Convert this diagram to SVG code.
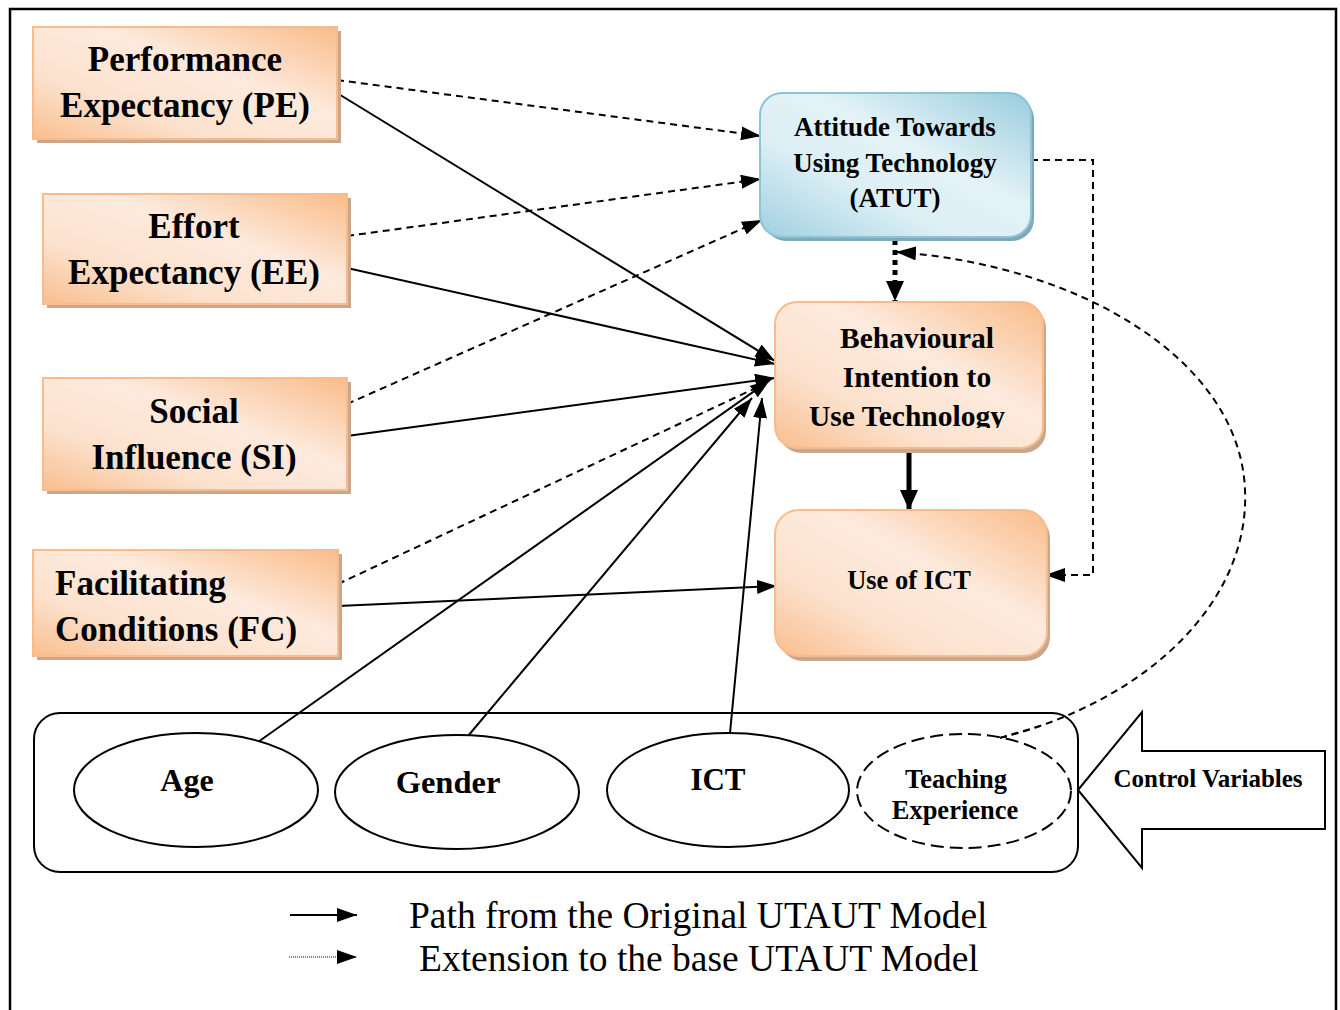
<svg xmlns="http://www.w3.org/2000/svg" width="1340" height="1010" viewBox="0 0 1340 1010">
  <defs>
    <linearGradient id="peach" x1="0" y1="1" x2="1" y2="0">
      <stop offset="0" stop-color="#F9BE8E"/>
      <stop offset="0.3" stop-color="#FCE2CE"/>
      <stop offset="0.6" stop-color="#FDEADD"/>
      <stop offset="1" stop-color="#F9BC8A"/>
    </linearGradient>
    <linearGradient id="sky" x1="0" y1="1" x2="1" y2="0">
      <stop offset="0" stop-color="#9FD0E0"/>
      <stop offset="0.35" stop-color="#DCEFF5"/>
      <stop offset="0.6" stop-color="#E3F2F7"/>
      <stop offset="1" stop-color="#98CCDD"/>
    </linearGradient>
    <marker id="arr" viewBox="0 0 20 14" refX="20" refY="7" markerWidth="20" markerHeight="14" markerUnits="userSpaceOnUse" orient="auto">
      <path d="M0,0 L20,7 L0,14 Z" fill="#000"/>
    </marker>
    <marker id="arrBig" viewBox="0 0 20 18" refX="20" refY="9" markerWidth="20" markerHeight="18" markerUnits="userSpaceOnUse" orient="auto">
      <path d="M0,0 L20,9 L0,18 Z" fill="#000"/>
    </marker>
    <clipPath id="biClip">
      <rect x="770" y="300" width="280" height="128"/>
    </clipPath>
    <style>
      .box { fill: url(#peach); stroke: #F8BC8C; stroke-width: 2; }
      .boxBlue { fill: url(#sky); stroke: #8CC3D5; stroke-width: 2; }
      .shadow { fill: #C9A78C; }
      .shadowBlue { fill: #7FA9B8; }
      .lbl { font-family: "Liberation Serif", "Times New Roman", serif; font-weight: bold; fill: #000; }
      .legend { font-family: "Liberation Serif", "Times New Roman", serif; font-size: 37.5px; fill: #000; }
      .solid { fill: none; stroke: #000; stroke-width: 2; }
      .dash { fill: none; stroke: #000; stroke-width: 2; stroke-dasharray: 7 5; }
      .oval { fill: #fff; stroke: #000; stroke-width: 2; }
    </style>
  </defs>

  <rect width="1340" height="1010" fill="#fff"/>
  <!-- outer frame -->
  <rect x="10" y="9" width="1326" height="1020" fill="none" stroke="#000" stroke-width="2.5"/>

  <!-- control variables group -->
  <g id="control-box">
    <rect x="34" y="713" width="1044" height="159" rx="26" ry="26" fill="#fff" stroke="#000" stroke-width="2"/>
  </g>
  <g id="control-arrow">
    <path d="M1078,790 L1142,712 L1142,751 L1325,751 L1325,829 L1142,829 L1142,868 Z" fill="#fff" stroke="#000" stroke-width="2"/>
    <text class="lbl" x="1208" y="787" font-size="25" text-anchor="middle">Control Variables</text>
  </g>

  <!-- connectors -->
  <g id="connectors">
    <!-- original UTAUT paths -->
    <line class="solid" x1="337" y1="93" x2="775" y2="361" marker-end="url(#arr)"/>
    <line class="solid" x1="347" y1="268" x2="775" y2="364" marker-end="url(#arr)"/>
    <line class="solid" x1="347" y1="436" x2="775" y2="378" marker-end="url(#arr)"/>
    <line class="solid" x1="338" y1="606" x2="777" y2="586" marker-end="url(#arr)"/>
    <line class="solid" x1="258" y1="742" x2="770" y2="380" marker-end="url(#arr)"/>
    <line class="solid" x1="468" y1="736" x2="752" y2="398" marker-end="url(#arr)"/>
    <line class="solid" x1="730" y1="733" x2="762" y2="398" marker-end="url(#arr)"/>
    <line x1="909" y1="448" x2="909" y2="510" stroke="#000" stroke-width="5" marker-end="url(#arrBig)"/>
    <!-- extension paths -->
    <line class="dash" x1="337" y1="80" x2="761" y2="136" marker-end="url(#arr)"/>
    <line class="dash" x1="347" y1="236" x2="761" y2="179" marker-end="url(#arr)"/>
    <line class="dash" x1="347" y1="404" x2="762" y2="220" marker-end="url(#arr)"/>
    <line class="dash" x1="338" y1="584" x2="760" y2="386"/>
    <polyline class="dash" points="1031,160 1093,160 1093,575 1045,575" marker-end="url(#arr)"/>
    <line x1="895" y1="240" x2="895" y2="301" stroke="#000" stroke-width="5" stroke-dasharray="5 5" marker-end="url(#arrBig)"/>
    <path class="dash" stroke-width="1.6" stroke-dasharray="6 4" d="M1000,738 C1150,700 1250,600 1245,490 C1240,360 1080,265 896,252" marker-end="url(#arr)"/>
  </g>

  <!-- exogenous constructs -->
  <g id="node-pe">
    <rect class="shadow" x="37" y="31" width="304" height="112"/>
    <rect class="box" x="33" y="27" width="304" height="112"/>
    <text class="lbl" x="185" y="71" font-size="35" text-anchor="middle">Performance</text>
    <text class="lbl" x="185" y="117" font-size="35" text-anchor="middle">Expectancy (PE)</text>
  </g>
  <g id="node-ee">
    <rect class="shadow" x="47" y="198" width="304" height="110"/>
    <rect class="box" x="43" y="194" width="304" height="110"/>
    <text class="lbl" x="194" y="238" font-size="35" text-anchor="middle">Effort</text>
    <text class="lbl" x="194" y="284" font-size="35" text-anchor="middle">Expectancy (EE)</text>
  </g>
  <g id="node-si">
    <rect class="shadow" x="47" y="382" width="304" height="112"/>
    <rect class="box" x="43" y="378" width="304" height="112"/>
    <text class="lbl" x="194" y="423" font-size="35" text-anchor="middle">Social</text>
    <text class="lbl" x="194" y="469" font-size="35" text-anchor="middle">Influence (SI)</text>
  </g>
  <g id="node-fc">
    <rect class="shadow" x="37" y="554" width="305" height="106"/>
    <rect class="box" x="33" y="550" width="305" height="106"/>
    <text class="lbl" x="55" y="595" font-size="35">Facilitating</text>
    <text class="lbl" x="55" y="641" font-size="35">Conditions (FC)</text>
  </g>

  <!-- endogenous constructs -->
  <g id="node-atut">
    <rect class="shadowBlue" x="764" y="97" width="270" height="144" rx="22" ry="22"/>
    <rect class="boxBlue" x="760" y="93" width="271" height="144" rx="22" ry="22"/>
    <text class="lbl" x="895" y="136" font-size="27" text-anchor="middle">Attitude Towards</text>
    <text class="lbl" x="895" y="172" font-size="27" text-anchor="middle">Using Technology</text>
    <text class="lbl" x="895" y="207" font-size="27" text-anchor="middle">(ATUT)</text>
  </g>
  <g id="node-bi">
    <rect class="shadow" x="779" y="306" width="267" height="147" rx="22" ry="22"/>
    <rect class="box" x="775" y="302" width="268" height="146" rx="22" ry="22"/>
    <text class="lbl" x="917" y="348" font-size="29.5" text-anchor="middle">Behavioural</text>
    <text class="lbl" x="917" y="387" font-size="29.5" text-anchor="middle">Intention to</text>
    <text class="lbl" x="809" y="426" font-size="29.5" clip-path="url(#biClip)">Use Technology</text>
  </g>
  <g id="node-use">
    <rect class="shadow" x="779" y="514" width="271" height="147" rx="24" ry="24"/>
    <rect class="box" x="775" y="510" width="272" height="146" rx="24" ry="24"/>
    <text class="lbl" x="909" y="589" font-size="26.5" text-anchor="middle">Use of ICT</text>
  </g>

  <!-- control variables -->
  <g id="node-age">
    <ellipse class="oval" cx="196" cy="790" rx="122" ry="57"/>
    <text class="lbl" x="187" y="791" font-size="32" text-anchor="middle">Age</text>
  </g>
  <g id="node-gender">
    <ellipse class="oval" cx="457" cy="792" rx="122" ry="57"/>
    <text class="lbl" x="448" y="793" font-size="32.5" text-anchor="middle">Gender</text>
  </g>
  <g id="node-ict">
    <ellipse class="oval" cx="728" cy="790" rx="121" ry="57"/>
    <text class="lbl" x="718" y="790" font-size="31" text-anchor="middle">ICT</text>
  </g>
  <g id="node-teaching">
    <ellipse cx="964" cy="791" rx="107" ry="57" fill="#fff" stroke="#000" stroke-width="2" stroke-dasharray="13 6"/>
    <text class="lbl" x="956" y="788" font-size="26.5" text-anchor="middle">Teaching</text>
    <text class="lbl" x="955" y="819" font-size="26.5" text-anchor="middle">Experience</text>
  </g>
  <!-- tail of the curve drawn over the ellipse outline -->
  <path class="dash" stroke-width="1.6" stroke-dasharray="6 4" d="M1000,738 L1040,726"/>

  <!-- legend -->
  <g id="legend">
    <line x1="290" y1="915" x2="357" y2="915" stroke="#000" stroke-width="2" marker-end="url(#arr)"/>
    <line x1="289" y1="957" x2="357" y2="957" stroke="#000" stroke-width="1" stroke-dasharray="1 1" marker-end="url(#arr)"/>
    <text class="legend" x="409" y="928">Path from the Original UTAUT Model</text>
    <text class="legend" x="419" y="971">Extension to the base UTAUT Model</text>
  </g>
</svg>
